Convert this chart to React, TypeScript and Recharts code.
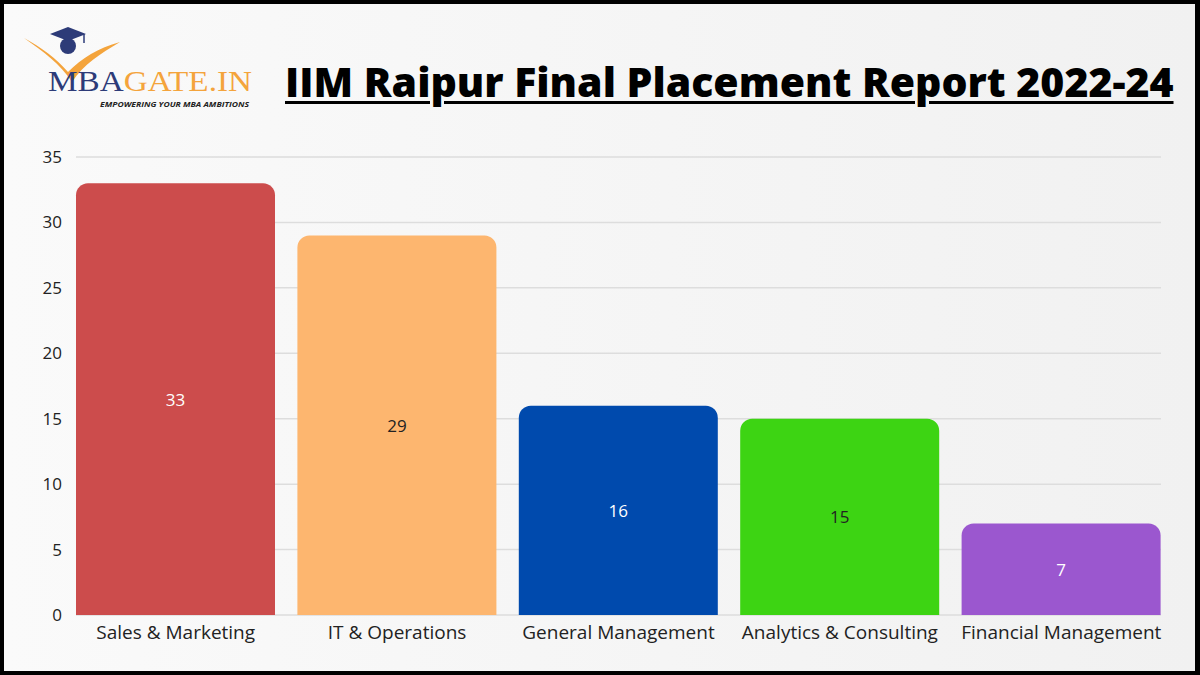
import React from "react";
import {
  BarChart,
  Bar,
  XAxis,
  YAxis,
  CartesianGrid,
  Cell,
  LabelList,
} from "recharts";

// data
const categories = [
  "Sales & Marketing",
  "IT & Operations",
  "General Management",
  "Analytics & Consulting",
  "Financial Management",
];
const placements = [33, 29, 16, 15, 7];
const barColors = ["#cc4c4c", "#fdb66f", "#004aad", "#3dd413", "#9b57cf"];
const labelColors = ["#ffffff", "#222222", "#ffffff", "#222222", "#ffffff"];
const yTicks = [0, 5, 10, 15, 20, 25, 30, 35];

const dataChart = categories.map((name, i) => ({
  name,
  value: placements[i],
}));

const FONT = "'Open Sans', sans-serif";

// grid lines stop at the outer bar edges, not the band edges
const GridLine = (props: any) => {
  const { x1, x2, y1, y2 } = props;
  return (
    <line
      x1={x1 + 11}
      x2={x2 - 11}
      y1={y1}
      y2={y2}
      stroke="#dddddd"
      strokeWidth={1.5}
    />
  );
};

const BarValue = (props: any) => {
  const { x, y, width, height, value, index } = props;
  return (
    <text
      x={x + width / 2}
      y={y + height / 2}
      textAnchor="middle"
      dominantBaseline="central"
      fill={labelColors[index]}
      fontFamily={FONT}
      fontSize={17}
    >
      {value}
    </text>
  );
};

const Logo = () => (
  <svg
    width={260}
    height={115}
    style={{ position: "absolute", left: 0, top: 0 }}
  >
    {/* orange V swoosh */}
    <path
      d="M20 34 C38 44 52 54 64 68 C78 54 94 44 116 38 C96 50 80 60 68 78 C56 60 40 48 20 34 Z"
      fill="#f4a43c"
    />
    {/* graduation cap */}
    <circle cx={64} cy={42} r={8} fill="#2d3b78" />
    <path d="M46 30 L64 23 L82 30 L64 37 Z" fill="#2d3b78" />
    <line x1={80} y1={30} x2={80} y2={39} stroke="#2d3b78" strokeWidth={1.5} />
    <text
      x={44}
      y={87}
      fontFamily="'Liberation Serif', 'DejaVu Serif', serif"
      fontSize={30}
      textLength={204}
      lengthAdjust="spacingAndGlyphs"
    >
      <tspan fill="#2d3b78">MBA</tspan>
      <tspan fill="#f4a43c">GATE.IN</tspan>
    </text>
    <text
      x={96}
      y={103}
      fontFamily={FONT}
      fontSize={7}
      fontWeight={700}
      fontStyle="italic"
      fill="#222"
      textLength={149}
      lengthAdjust="spacingAndGlyphs"
    >
      EMPOWERING YOUR MBA AMBITIONS
    </text>
  </svg>
);

export default function App() {
  return (
    <div
      style={{
        position: "absolute",
        left: 0,
        top: 0,
        width: 1200,
        height: 675,
        boxSizing: "border-box",
        borderTop: "4px solid #000",
        borderLeft: "4px solid #000",
        borderRight: "5px solid #000",
        borderBottom: "4px solid #000",
        background: "linear-gradient(90deg, #fafafa 0%, #f1f1f1 100%)",
        overflow: "hidden",
      }}
    >
      <div style={{ position: "absolute", left: -4, top: -4 }}>
        <BarChart
          width={1200}
          height={675}
          data={dataChart}
          margin={{ top: 157, right: 28, bottom: 20, left: 5 }}
          barCategoryGap={11}
        >
          <CartesianGrid vertical={false} horizontal={GridLine} />
          <XAxis
            dataKey="name"
            axisLine={false}
            tickLine={false}
            tickMargin={5}
            height={40}
            interval={0}
            tick={{ fill: "#222", fontFamily: FONT, fontSize: 19 }}
          />
          <YAxis
            domain={[0, 35]}
            ticks={yTicks}
            axisLine={false}
            tickLine={false}
            tickSize={3}
            tickMargin={0}
            width={60}
            tick={{ fill: "#222", fontFamily: FONT, fontSize: 17 }}
          />
          <Bar dataKey="value" radius={[12, 12, 0, 0]} isAnimationActive={false}>
            {dataChart.map((entry, i) => (
              <Cell key={entry.name} fill={barColors[i]} />
            ))}
            <LabelList dataKey="value" content={<BarValue />} />
          </Bar>
        </BarChart>
      </div>
      <Logo />
      <div
        style={{
          position: "absolute",
          left: 281,
          top: 52,
          fontFamily: "'Open Sans', sans-serif",
          fontWeight: 800,
          fontSize: 41,
          lineHeight: "50px",
          color: "#000",
          textDecoration: "underline",
          textDecorationThickness: 3,
          textUnderlineOffset: 4,
          whiteSpace: "nowrap",
        }}
      >
        IIM Raipur Final Placement Report 2022-24
      </div>
    </div>
  );
}
